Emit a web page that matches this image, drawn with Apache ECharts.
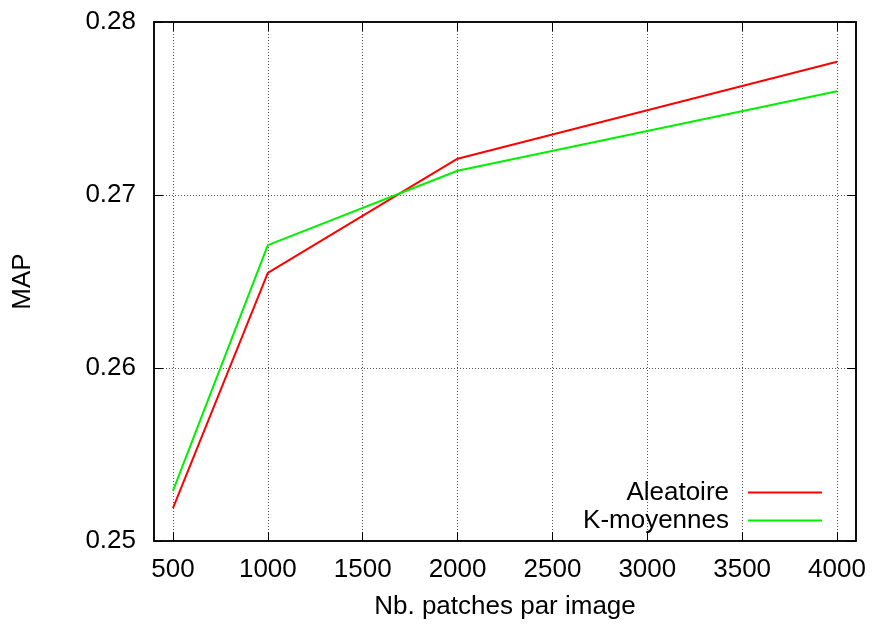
<!DOCTYPE html>
<html>
<head>
<meta charset="utf-8">
<script src="https://cdn.jsdelivr.net/npm/echarts@6/dist/echarts.min.js"></script>
<style>
html,body{margin:0;padding:0;background:#fff;}
#chart{width:874px;height:628px;}
</style>
</head>
<body>
<div id="chart"></div>
<script>
const xValues = [500, 1000, 2000, 4000];
const aleatoire = [0.2519, 0.2655, 0.2721, 0.2777];
const kmoyennes = [0.2529, 0.2671, 0.2714, 0.2760];
const xTicks = [500, 1000, 1500, 2000, 2500, 3000, 3500, 4000];
const seriesNames = ['Aleatoire', 'K-moyennes'];
const xTitle = 'Nb. patches par image';
const yTitle = 'MAP';

const FONT = '"Liberation Sans", Arial, sans-serif';
const FS = 26;
const grid = {left: 154, right: 18, top: 22, bottom: 87, show: true, borderColor: '#000', borderWidth: 1.5, backgroundColor: 'transparent'};
const tick = {show: true, inside: true, length: 9, lineStyle: {color: '#000', width: 1}};
const split = {show: true, lineStyle: {color: '#555', width: 1, type: [1, 2]}};

const chart = echarts.init(document.getElementById('chart'));
chart.setOption({
  backgroundColor: '#fff',
  animation: false,
  grid: grid,
  legend: {
    orient: 'vertical', right: 51, top: 479, align: 'right', padding: 0, itemGap: 1,
    itemWidth: 74, itemHeight: 3,
    itemStyle: {opacity: 0},
    textStyle: {fontFamily: FONT, fontSize: FS, color: '#000', lineHeight: 27, padding: [0, 14, 0, 0]},
    data: seriesNames
  },
  xAxis: [{
    type: 'value', min: 400, max: 4100,
    name: xTitle, nameLocation: 'middle', nameGap: 53,
    nameTextStyle: {fontFamily: FONT, fontSize: FS, color: '#000'},
    axisLine: {show: true, lineStyle: {color: '#000', width: 1.5}},
    axisTick: Object.assign({customValues: xTicks}, tick),
    axisLabel: {customValues: xTicks, fontFamily: FONT, fontSize: FS, color: '#000', margin: 16, formatter: v => String(v)},
    splitLine: split
  }, {
    type: 'value', min: 400, max: 4100, position: 'top',
    axisLine: {show: true, lineStyle: {color: '#000', width: 1.5}},
    axisTick: Object.assign({customValues: xTicks}, tick),
    axisLabel: {show: false, customValues: xTicks},
    splitLine: {show: false}
  }],
  yAxis: [{
    type: 'value', min: 0.25, max: 0.28, interval: 0.01,
    name: yTitle, nameLocation: 'middle', nameGap: 118, nameRotate: 90,
    nameTextStyle: {fontFamily: FONT, fontSize: FS, color: '#000'},
    axisLine: {show: true, lineStyle: {color: '#000', width: 1.5}},
    axisTick: tick,
    axisLabel: {fontFamily: FONT, fontSize: FS, color: '#000', margin: 18, formatter: v => v.toFixed(2)},
    splitLine: split
  }, {
    type: 'value', min: 0.25, max: 0.28, interval: 0.01, position: 'right',
    axisLine: {show: true, lineStyle: {color: '#000', width: 1.5}},
    axisTick: tick,
    axisLabel: {show: false},
    splitLine: {show: false}
  }],
  series: [{
    name: seriesNames[0], type: 'line', symbol: 'none',
    lineStyle: {color: '#ff0000', width: 2}, itemStyle: {color: '#ff0000'},
    data: xValues.map((x, i) => [x, aleatoire[i]])
  }, {
    name: seriesNames[1], type: 'line', symbol: 'none',
    lineStyle: {color: '#00f000', width: 2}, itemStyle: {color: '#00f000'},
    data: xValues.map((x, i) => [x, kmoyennes[i]])
  }]
});
</script>
</body>
</html>
